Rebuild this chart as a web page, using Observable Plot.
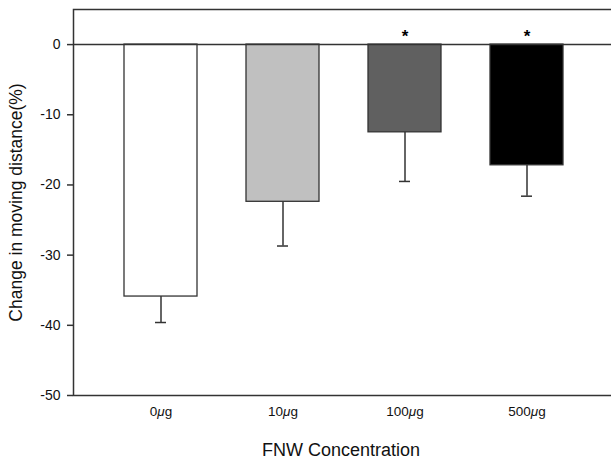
<!DOCTYPE html>
<html>
<head>
<meta charset="utf-8">
<script src="https://cdn.jsdelivr.net/npm/d3@7"></script>
<script src="https://cdn.jsdelivr.net/npm/@observablehq/plot@0.6"></script>
<style>
  html, body { margin: 0; padding: 0; background: #fff; }
  svg { display: block; }
</style>
</head>
<body>
<div id="chart"></div>
<script>
const categories = ["0μg", "10μg", "100μg", "500μg"];
const means = [-35.9, -22.4, -12.5, -17.2];
const errors = [3.7, 6.3, 7.0, 4.4];
const significant = [false, false, true, true];
const fills = ["#ffffff", "#c0c0c0", "#606060", "#000000"];
const yTicks = [0, -10, -20, -30, -40, -50];
const yLabel = "Change in moving distance(%)";
const xLabel = "FNW Concentration";

const data = categories.map((c, i) => ({
  cat: c, mean: means[i], low: means[i] - errors[i], sig: significant[i], fill: fills[i]
}));

const ink = "#333333";
const font = "Arial, 'Liberation Sans', sans-serif";

const chart = Plot.plot({
  width: 611,
  height: 462,
  marginLeft: 73,
  marginRight: -3,
  marginTop: 9,
  marginBottom: 67,
  style: { fontFamily: font, fontSize: "14px", background: "#fff", color: "#111" },
  x: { domain: categories, paddingInner: 0.4, paddingOuter: 0.4 },
  y: { domain: [-50, 5] },
  marks: [
    Plot.frame({ stroke: ink, strokeWidth: 1.5 }),
    Plot.ruleX(data, { x: "cat", y1: "mean", y2: "low", stroke: ink, strokeWidth: 1.5 }),
    Plot.tickY(data, { x: "cat", y: "low", stroke: ink, strokeWidth: 1.5, insetLeft: 31, insetRight: 31 }),
    Plot.barY(data, { x: "cat", y: "mean", fill: "fill", stroke: ink, strokeWidth: 1.3 }),
    Plot.ruleY([0], { stroke: ink, strokeWidth: 1.5 }),
    Plot.text(data.filter(d => d.sig), { x: "cat", y: 0, text: () => "*", dy: -8, fontSize: 17, fontWeight: "bold", fill: "#000" }),
    Plot.axisY({ ticks: yTicks, tickFormat: d => String(d), tickSize: 6, tickPadding: 7, fontSize: 14,
      stroke: ink, strokeWidth: 1.5, fill: "#111", label: null }),
    Plot.axisX({ tickSize: 0, tickPadding: 11, fontSize: 13.5, fill: "#111", label: null }),
    Plot.text([yLabel], { frameAnchor: "left", textAnchor: "middle", rotate: -90, dx: -57, fontSize: 17.5, fill: "#111", text: d => d }),
    Plot.text([xLabel], { frameAnchor: "bottom", textAnchor: "middle", dy: 60, dx: -3, fontSize: 18, fill: "#111", text: d => d })
  ]
});

// italicize the μ in x tick labels
d3.select(chart).selectAll("text").each(function() {
  const t = this.textContent;
  const m = t.match(/^(\d+)(μ)(g)$/);
  if (m && this.children.length === 0) {
    const sel = d3.select(this);
    sel.text(null);
    sel.append("tspan").text(m[1]);
    sel.append("tspan").attr("font-style", "italic").text(m[2]);
    sel.append("tspan").text(m[3]);
  }
});

document.getElementById("chart").appendChild(chart);
</script>
</body>
</html>
